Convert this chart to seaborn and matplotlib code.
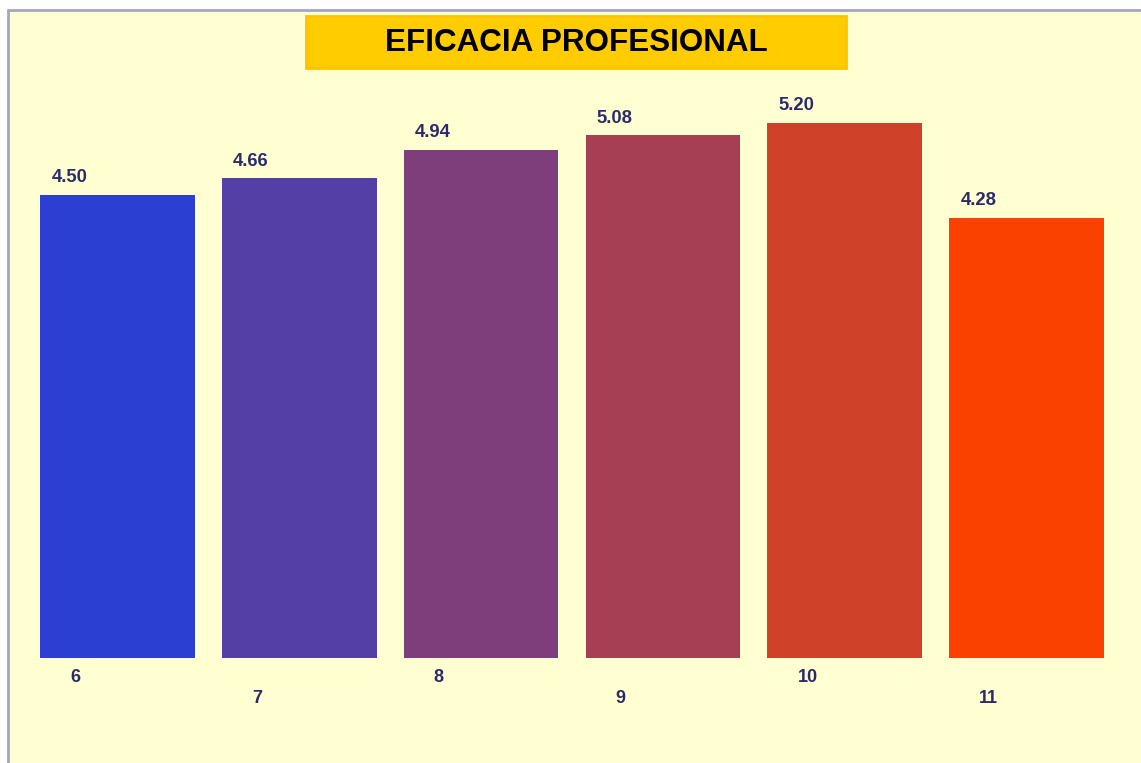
import matplotlib
matplotlib.use("Agg")
import matplotlib.pyplot as plt
from matplotlib.patches import Rectangle
from matplotlib.lines import Line2D
import seaborn as sns
import pandas as pd

categories = ["6", "7", "8", "9", "10", "11"]
values = [4.50, 4.66, 4.94, 5.08, 5.20, 4.28]
value_labels = ["4.50", "4.66", "4.94", "5.08", "5.20", "4.28"]
bar_colors = ["#2B40D3", "#543FA7", "#7E3E7C", "#A63E54", "#CF4128", "#FA4100"]
title = "EFICACIA PROFESIONAL"

sns.set_theme(style="white")
plt.rcParams["font.family"] = ["Liberation Sans", "DejaVu Sans"]

BG = "#FFFFD2"
TXT = "#2B2B6B"

W, H = 1141, 763
fig = plt.figure(figsize=(W / 100, H / 100), dpi=100)
fig.patch.set_facecolor(BG)

# white margin at top/left and the thin frame line
fig.add_artist(Rectangle((0, 1 - 10 / H), 1, 10 / H, transform=fig.transFigure,
                         facecolor="white", edgecolor="none", zorder=0))
fig.add_artist(Rectangle((0, 0), 8 / W, 1, transform=fig.transFigure,
                         facecolor="white", edgecolor="none", zorder=0))
fig.add_artist(Line2D([8 / W, 1], [1 - 10 / H, 1 - 10 / H], transform=fig.transFigure,
                      color="#A4A4C8", lw=2))
fig.add_artist(Line2D([8 / W, 8 / W], [0, 1 - 10 / H], transform=fig.transFigure,
                      color="#A4A4C8", lw=2))

ax = fig.add_axes([26.5 / W, (H - 657.5) / H, 1091 / W, 647.5 / H])
ax.set_facecolor("none")

df = pd.DataFrame({"cat": categories, "val": values})
sns.barplot(data=df, x="cat", y="val", hue="cat", palette=bar_colors,
            order=categories, hue_order=categories, legend=False,
            width=0.85, saturation=1, ax=ax, edgecolor="none")

ax.set_xlim(-0.5, len(categories) - 0.5)
ax.set_ylim(0, 647.5 / 102.8)
for s in ax.spines.values():
    s.set_visible(False)
ax.set_xticks([])
ax.set_yticks([])
ax.set_xlabel("")
ax.set_ylabel("")

for i, (v, lab) in enumerate(zip(values, value_labels)):
    ax.text(i - 0.425 + 0.062, v + 0.165, lab, ha="left", va="center",
            fontsize=13.3, fontweight="bold", color=TXT)

for i, c in enumerate(categories):
    y = -0.19 if i % 2 == 0 else -0.40
    ax.text(i - 0.425 + 0.165, y, c, ha="left", va="center",
            fontsize=13, fontweight="bold", color=TXT, clip_on=False)

# title box
fig.add_artist(Rectangle((306 / W, 1 - 68 / H), 540 / W, 52 / H, transform=fig.transFigure,
                         facecolor="#FFCC00", edgecolor="#FFC200", lw=2, zorder=3))
fig.text(576 / W, 1 - 43 / H, title, ha="center", va="center",
         fontsize=22.6, fontweight="bold", color="black", zorder=4)

fig.savefig("out.png", dpi=100, facecolor=fig.get_facecolor())
